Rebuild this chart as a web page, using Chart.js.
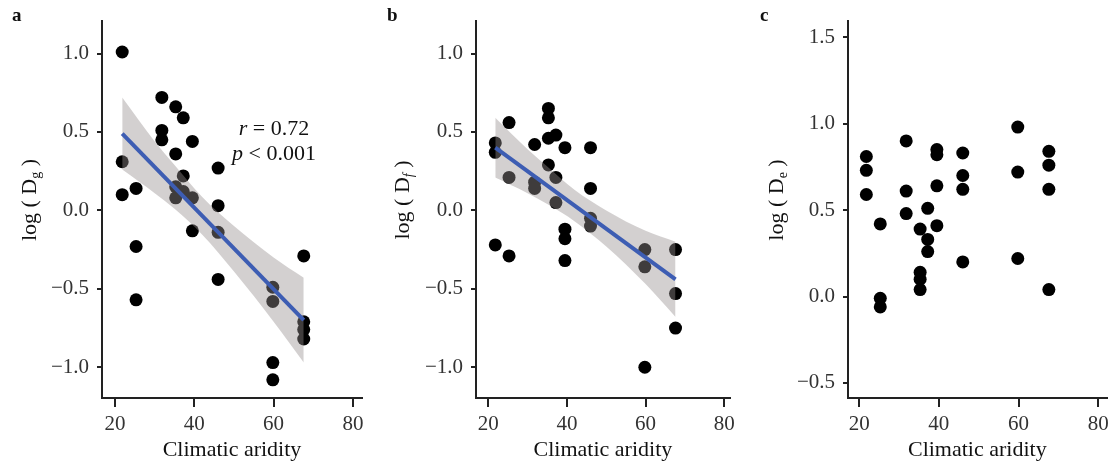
<!DOCTYPE html>
<html>
<head>
  <title>Climatic aridity</title>
  <style>
    body { margin: 0; background: #fff; }
    .panel { position: absolute; top: 0; height: 465px; }
  </style>
</head>
<body>
  <div class="panel" style="left:0;width:370px;"><canvas id="chartA"></canvas></div>
  <div class="panel" style="left:370px;width:370px;"><canvas id="chartB"></canvas></div>
  <div class="panel" style="left:740px;width:374px;"><canvas id="chartC"></canvas></div>
  <script src="https://cdn.jsdelivr.net/npm/chart.js"></script>
  <script>
    var xTicks = [20, 40, 60, 80];
    var yTicksAB = [-1.0, -0.5, 0.0, 0.5, 1.0];
    var yTicksC = [-0.5, 0.0, 0.5, 1.0, 1.5];

    // panel a
    var aridityA = [21.8, 21.8, 21.8, 25.3, 25.3, 25.3, 31.8, 31.8, 31.8, 35.3, 35.3, 35.3, 35.3,
                    37.2, 37.2, 37.2, 39.5, 39.5, 39.5, 46.0, 46.0, 46.0, 46.0,
                    59.8, 59.8, 59.8, 59.8, 67.6, 67.6, 67.6, 67.6];
    var logDg = [1.01, 0.31, 0.10, 0.14, -0.23, -0.57, 0.72, 0.51, 0.45, 0.66, 0.36, 0.15, 0.08,
                 0.59, 0.22, 0.12, 0.44, 0.08, -0.13, 0.27, 0.03, -0.14, -0.44,
                 -0.49, -0.58, -0.97, -1.08, -0.29, -0.71, -0.76, -0.82];

    // panel b
    var aridityB = [21.8, 21.8, 21.8, 25.3, 25.3, 25.3, 31.8, 31.8, 31.8, 35.3, 35.3, 35.3, 35.3,
                    37.2, 37.2, 37.2, 39.5, 39.5, 39.5, 39.5, 46.0, 46.0, 46.0, 46.0,
                    59.8, 59.8, 59.8, 67.6, 67.6, 67.6];
    var logDf = [0.43, 0.37, -0.22, 0.56, 0.21, -0.29, 0.42, 0.18, 0.14, 0.65, 0.59, 0.46, 0.29,
                 0.48, 0.21, 0.05, 0.40, -0.12, -0.18, -0.32, 0.40, 0.14, -0.05, -0.10,
                 -0.25, -0.36, -1.00, -0.25, -0.53, -0.75];

    // panel c
    var aridityC = [21.8, 21.8, 21.8, 25.3, 25.3, 25.3, 31.8, 31.8, 31.8, 35.3, 35.3, 35.3, 35.3,
                    37.2, 37.2, 37.2, 39.5, 39.5, 39.5, 39.5, 46.0, 46.0, 46.0, 46.0,
                    59.8, 59.8, 59.8, 67.6, 67.6, 67.6, 67.6];
    var logDe = [0.81, 0.73, 0.59, 0.42, -0.01, -0.06, 0.90, 0.61, 0.48, 0.39, 0.14, 0.10, 0.04,
                 0.51, 0.33, 0.26, 0.85, 0.82, 0.64, 0.41, 0.83, 0.70, 0.62, 0.20,
                 0.98, 0.72, 0.22, 0.84, 0.76, 0.62, 0.04];

    // fitted lines and 95% bands
    var fitX = [21.8, 67.6];
    var fitA = [0.49, -0.70];
    var fitB = [0.40, -0.44];
    var bandX = [21.8, 30, 35, 42, 50, 60, 67.6];
    var bandUpperA = [0.72, 0.44, 0.29, 0.085, -0.10, -0.30, -0.43];
    var bandLowerA = [0.26, 0.11, 0.01, -0.155, -0.39, -0.71, -0.97];
    var bandUpperB = [0.59, 0.39, 0.28, 0.13, 0.00, -0.13, -0.20];
    var bandLowerB = [0.21, 0.11, 0.04, -0.07, -0.23, -0.47, -0.68];

    var serif = '"Liberation Serif", "Times New Roman", serif';
    Chart.defaults.font.family = serif;
    Chart.defaults.animation = false;

    function pairs(xs, ys) {
      return xs.map(function(x, i) { return {x: x, y: ys[i]}; });
    }

    function fmtY(v) {
      return (v < 0 ? '\u2212' : '') + Math.abs(v).toFixed(1);
    }

    // draws a row of text pieces centred on (cx, cy)
    function drawRuns(ctx, cx, cy, runs, rot, baseline) {
      ctx.save();
      ctx.translate(cx, cy);
      if (rot) ctx.rotate(rot);
      ctx.textBaseline = baseline;
      ctx.textAlign = 'left';
      var total = 0;
      runs.forEach(function(r) {
        ctx.font = (r.italic ? 'italic ' : '') + r.size + 'px ' + serif;
        r.w = ctx.measureText(r.t).width;
        total += r.w;
      });
      var x = -total / 2;
      runs.forEach(function(r) {
        ctx.font = (r.italic ? 'italic ' : '') + r.size + 'px ' + serif;
        ctx.fillText(r.t, x, r.dy || 0);
        x += r.w;
      });
      ctx.restore();
    }

    var panelText = {
      id: 'panelText',
      afterDraw: function(chart, args, o) {
        var ctx = chart.ctx;
        ctx.save();
        ctx.fillStyle = '#111';
        ctx.font = 'bold 19px ' + serif;
        ctx.textAlign = 'left';
        ctx.textBaseline = 'alphabetic';
        ctx.fillText(o.letter, o.letterX, 21);
        drawRuns(ctx, o.titleX, 200, [
          {t: 'log ( D', size: 22},
          {t: o.sub, size: 14, dy: 6, italic: o.subItalic},
          {t: ' )', size: 22}
        ], -Math.PI / 2, 'middle');
        if (o.r) {
          drawRuns(ctx, o.statX, 135, [{t: 'r', size: 22, italic: true}, {t: ' = ' + o.r, size: 22}], 0, 'alphabetic');
          drawRuns(ctx, o.statX, 160, [{t: 'p', size: 22, italic: true}, {t: ' < 0.001', size: 22}], 0, 'alphabetic');
        }
        ctx.restore();
      }
    };

    function buildPanel(id, p) {
      var datasets = [];
      if (p.fit) {
        datasets.push({data: pairs(fitX, p.fit), showLine: true, borderColor: '#3d5db3', borderWidth: 4,
                       pointRadius: 0, fill: false});
        datasets.push({data: pairs(bandX, p.upper), showLine: true, borderColor: 'rgba(0,0,0,0)', borderWidth: 1,
                       pointRadius: 0, cubicInterpolationMode: 'monotone', fill: '+1',
                       backgroundColor: 'rgba(150,144,144,0.42)'});
        datasets.push({data: pairs(bandX, p.lower), showLine: true, borderColor: 'rgba(0,0,0,0)', borderWidth: 1,
                       pointRadius: 0, cubicInterpolationMode: 'monotone', fill: false});
      }
      datasets.push({data: pairs(p.xs, p.ys), showLine: false, pointRadius: 6.5,
                     pointBackgroundColor: '#000', pointBorderColor: '#000', pointBorderWidth: 0});

      var ctx = document.getElementById(id).getContext('2d');
      return new Chart(ctx, {
        type: 'line',
        data: {datasets: datasets},
        plugins: [panelText],
        options: {
          responsive: true,
          maintainAspectRatio: false,
          events: [],
          layout: {padding: {left: 0, top: 13, right: p.padRight, bottom: 0}},
          plugins: {
            legend: {display: false},
            tooltip: {enabled: false},
            panelText: p.text
          },
          scales: {
            x: {
              type: 'linear',
              min: p.xMin,
              max: p.xMax,
              afterBuildTicks: function(s) { s.ticks = xTicks.map(function(v) { return {value: v}; }); },
              afterFit: function(s) { s.height = 67; },
              ticks: {font: {size: 21}, color: '#333', padding: 5, autoSkip: false, maxRotation: 0,
                      callback: function(v) { return String(v); }},
              grid: {drawOnChartArea: false, drawTicks: true, tickLength: 9, color: '#222', lineWidth: 2},
              border: {display: true, color: '#222', width: 2},
              title: {display: true, text: 'Climatic aridity', color: '#111', font: {size: 22},
                      padding: {top: 0, bottom: 2}}
            },
            y: {
              type: 'linear',
              min: p.yMin,
              max: p.yMax,
              afterBuildTicks: function(s) { s.ticks = p.yTicks.map(function(v) { return {value: v}; }); },
              afterFit: function(s) { s.width = p.left; },
              ticks: {font: {size: 21}, color: '#333', padding: 8, autoSkip: false, callback: fmtY},
              grid: {drawOnChartArea: false, drawTicks: true, tickLength: 5, color: '#222', lineWidth: 2},
              border: {display: true, color: '#222', width: 2}
            }
          }
        }
      });
    }

    buildPanel('chartA', {
      xs: aridityA, ys: logDg, fit: fitA, upper: bandUpperA, lower: bandLowerA,
      left: 102, padRight: 8, xMin: 16.7, xMax: 82.3, yMin: -1.196, yMax: 1.21, yTicks: yTicksAB,
      text: {letter: 'a', letterX: 12, titleX: 30, sub: 'g', r: '0.72', statX: 274}
    });
    buildPanel('chartB', {
      xs: aridityB, ys: logDf, fit: fitB, upper: bandUpperB, lower: bandLowerB,
      left: 106, padRight: 8, xMin: 16.9, xMax: 81.4, yMin: -1.196, yMax: 1.21, yTicks: yTicksAB,
      text: {letter: 'b', letterX: 17, titleX: 33, sub: 'f', subItalic: true, r: '0.67', statX: 646}
    });
    buildPanel('chartC', {
      xs: aridityC, ys: logDe,
      left: 108, padRight: 7, xMin: 17.2, xMax: 82.1, yMin: -0.587, yMax: 1.596, yTicks: yTicksC,
      text: {letter: 'c', letterX: 20, titleX: 37, sub: 'e'}
    });
  </script>
</body>
</html>
